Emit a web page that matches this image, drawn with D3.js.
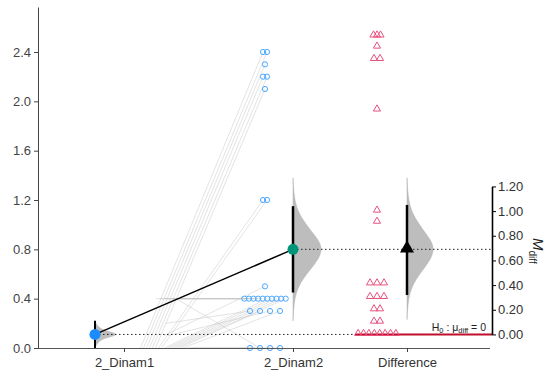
<!DOCTYPE html>
<html>
<head>
<meta charset="utf-8">
<script src="https://cdn.jsdelivr.net/npm/d3@7"></script>
<style>
  body { margin: 0; background: #fff; }
  svg { display: block; font-family: "Liberation Sans", Arial, sans-serif; }
</style>
</head>
<body>
<div class="chart-container"></div>
<script>
// Data
const categories = ["2_Dinam1", "2_Dinam2", "Difference"];
const dinam1 = [0, 0, 0, 0, 0, 0, 0, 0, 0.1, 0.4, 0.4, 0.4, 0.4, 0.4, 0, 0, 0, 0, 0, 0.2, 0, 0.1, 0, 0, 0.4, 0, 0];
const dinam2 = [2.4, 2.4, 2.3, 2.2, 2.2, 2.1, 1.2, 1.2, 0.5, 0.4, 0.4, 0.4, 0.4, 0.4, 0.4, 0.4, 0.4, 0.4, 0.4, 0.3, 0.3, 0.3, 0.3, 0, 0, 0, 0];
const differences = [2.42, 2.42, 2.42, 2.33, 2.23, 2.23, 1.82, 1.0, 0.91, 0.41, 0.41, 0.41, 0.3, 0.3, 0.3, 0.2, 0.2, 0.1, 0.1, 0, 0, 0, 0, 0, 0, 0, 0];
const groupMeans = [0.11, 0.80];
const groupCI = [[0.0, 0.22], [0.45, 1.15]];
const diffMean = 0.69;
const diffCI = [0.32, 1.05];
const leftTicks = [0, 0.4, 0.8, 1.2, 1.6, 2.0, 2.4];
const rightTicks = [0, 0.2, 0.4, 0.6, 0.8, 1.0, 1.2];
// bootstrap density outlines: [value, relative width]
const density1 = [[0.0, 0], [0.04, 0.08], [0.08, 0.3], [0.11, 1], [0.14, 0.3], [0.18, 0.08], [0.22, 0]];
const density2 = [[0.22, 0], [0.35, 0.03], [0.45, 0.1], [0.55, 0.3], [0.65, 0.65], [0.73, 0.9], [0.8, 1], [0.87, 0.9], [0.95, 0.62], [1.05, 0.3], [1.15, 0.1], [1.25, 0.03], [1.38, 0]];
const densityDiff = [[0.12, 0], [0.24, 0.03], [0.34, 0.1], [0.44, 0.3], [0.54, 0.65], [0.62, 0.9], [0.69, 1], [0.76, 0.9], [0.84, 0.62], [0.94, 0.3], [1.04, 0.1], [1.14, 0.03], [1.27, 0]];

const width = 550;
const height = 381;
const font = '"Liberation Sans", Arial, sans-serif';

const svg = d3.select('.chart-container').append('svg')
    .attr('width', width)
    .attr('height', height);

const x = d3.scaleOrdinal(categories, [124, 293, 407]);
const y = d3.scaleLinear().domain([0, 2.765]).range([348, 7]);
const yR = d3.scaleLinear().domain([0, 1.2]).range([y(groupMeans[0]), y(groupMeans[0] + 1.2)]);
const axisRight = 492;

// spread equal values side by side
function spread(vals, spacing) {
    const seen = {};
    const counts = {};
    vals.forEach(v => counts[v] = (counts[v] || 0) + 1);
    return vals.map(v => {
        const k = seen[v] = (seen[v] === undefined ? 0 : seen[v] + 1);
        const n = counts[v];
        const s = spacing(n, v);
        return (k - (n - 1) / 2) * s;
    });
}

const off1 = spread(dinam1, n => n > 10 ? 3 : 4);
const off2 = spread(dinam2, n => n > 5 ? 4.6 : (n > 2 ? 10 : 4));
const offD = spread(differences, (n, v) => v > 2.3 ? 3.5 : (n > 5 ? 5.4 : (n > 2 ? 7 : 6)));

const c1 = x('2_Dinam1') + 42;
const c2 = x('2_Dinam2') - 28;
const cD = x('Difference') - 30;

svg.append('clipPath').attr('id', 'plot')
    .append('rect').attr('x', 38).attr('y', 0).attr('width', 460).attr('height', 348);

// paired lines
svg.append('g').attr('clip-path', 'url(#plot)')
    .selectAll('line')
    .data(dinam1)
    .enter()
    .append('line')
    .attr('x1', (d, i) => c1 + off1[i])
    .attr('y1', d => y(d))
    .attr('x2', (d, i) => c2 + off2[i])
    .attr('y2', (d, i) => y(dinam2[i]))
    .attr('stroke', '#c4c4c4')
    .attr('stroke-opacity', 0.6)
    .attr('stroke-width', 0.8);

// half violins
function violin(data, cx, scale, w) {
    const wScale = d3.scaleLinear().domain([0, 1]).range([0, w]);
    svg.append('path')
        .datum(data)
        .attr('d', d3.area()
            .curve(d3.curveBasis)
            .y(d => scale(d[0]))
            .x0(cx)
            .x1(d => cx + wScale(d[1])))
        .attr('fill', '#bdbdbd')
        .attr('stroke', '#b0b0b0')
        .attr('stroke-width', 0.5);
}
const m1x = x('2_Dinam1') - 29;
violin(density1, m1x, y, 27);
violin(density2, x('2_Dinam2'), y, 29);
violin(densityDiff, x('Difference'), yR, 27);

// dotted reference lines
svg.append('line')
    .attr('x1', m1x).attr('x2', axisRight)
    .attr('y1', y(groupMeans[0])).attr('y2', y(groupMeans[0]))
    .attr('stroke', '#222').attr('stroke-dasharray', '1.5,2.5');
svg.append('line')
    .attr('x1', x('2_Dinam2')).attr('x2', axisRight)
    .attr('y1', y(groupMeans[1])).attr('y2', y(groupMeans[1]))
    .attr('stroke', '#222').attr('stroke-dasharray', '1.5,2.5');

// H0 line
svg.append('line')
    .attr('x1', 356).attr('x2', axisRight)
    .attr('y1', yR(0)).attr('y2', yR(0))
    .attr('stroke', '#c0102a').attr('stroke-width', 2);

const h0 = svg.append('text')
    .attr('x', 486).attr('y', yR(0) - 3)
    .attr('text-anchor', 'end')
    .attr('font-size', 10.5)
    .attr('fill', '#222');
h0.append('tspan').text('H');
h0.append('tspan').attr('font-size', 7.5).attr('dy', 2).text('0');
h0.append('tspan').attr('dy', -2).text(' : μ');
h0.append('tspan').attr('font-size', 7.5).attr('dy', 2).text('diff');
h0.append('tspan').attr('dy', -2).text(' = 0');

// CI bars
svg.append('line')
    .attr('x1', m1x).attr('x2', m1x)
    .attr('y1', y(groupCI[0][0])).attr('y2', y(groupCI[0][1]))
    .attr('stroke', '#000').attr('stroke-width', 2);
svg.append('line')
    .attr('x1', x('2_Dinam2')).attr('x2', x('2_Dinam2'))
    .attr('y1', y(groupCI[1][0])).attr('y2', y(groupCI[1][1]))
    .attr('stroke', '#000').attr('stroke-width', 2.5);
svg.append('line')
    .attr('x1', x('Difference')).attr('x2', x('Difference'))
    .attr('y1', yR(diffCI[0])).attr('y2', yR(diffCI[1]))
    .attr('stroke', '#000').attr('stroke-width', 2.5);

// raw points
svg.append('g')
    .selectAll('circle')
    .data(dinam2)
    .enter()
    .append('circle')
    .attr('cx', (d, i) => c2 + off2[i])
    .attr('cy', d => y(d))
    .attr('r', 2.6)
    .attr('fill', 'none')
    .attr('stroke', '#4aa8ff')
    .attr('stroke-width', 1);

svg.append('g')
    .selectAll('path')
    .data(differences)
    .enter()
    .append('path')
    .attr('d', d3.symbol(d3.symbolTriangle, 22))
    .attr('transform', (d, i) => `translate(${cD + offD[i]},${yR(d) - 1})`)
    .attr('fill', 'none')
    .attr('stroke', '#e8507e')
    .attr('stroke-width', 1);

// mean connector
svg.append('line')
    .attr('x1', m1x).attr('y1', y(groupMeans[0]))
    .attr('x2', x('2_Dinam2')).attr('y2', y(groupMeans[1]))
    .attr('stroke', '#000').attr('stroke-width', 1.5);

svg.append('circle')
    .attr('cx', m1x).attr('cy', y(groupMeans[0])).attr('r', 5.5)
    .attr('fill', '#1a8cff');
svg.append('circle')
    .attr('cx', x('2_Dinam2')).attr('cy', y(groupMeans[1])).attr('r', 5.5)
    .attr('fill', '#00957a');
svg.append('path')
    .attr('d', d3.symbol(d3.symbolTriangle, 85))
    .attr('transform', `translate(${x('Difference')},${yR(diffMean) - 1})`)
    .attr('fill', '#000');

// left axis
const gLeft = svg.append('g')
    .attr('transform', 'translate(38,0)')
    .call(d3.axisLeft(y).tickValues(leftTicks).tickFormat(d3.format('.1f')).tickSize(4).tickSizeOuter(0))
    .attr('font-family', font).attr('font-size', 13);
gLeft.select('.domain').attr('stroke', '#444');
gLeft.selectAll('.tick line').attr('stroke', '#444');
gLeft.selectAll('.tick text').attr('fill', '#444').attr('x', -7);

// bottom axis
const gBottom = svg.append('g')
    .attr('transform', 'translate(0,348)')
    .call(d3.axisBottom(x).tickSize(4).tickSizeOuter(0))
    .attr('font-family', font).attr('font-size', 13);
gBottom.select('.domain').attr('d', 'M38,0.5H490').attr('stroke', '#555');
gBottom.selectAll('.tick line').attr('stroke', '#444');
gBottom.selectAll('.tick text').attr('fill', '#333').attr('y', 10);

// right axis
const gRight = svg.append('g')
    .attr('transform', `translate(${axisRight},0)`)
    .call(d3.axisRight(yR).tickValues(rightTicks).tickFormat(d3.format('.2f')).tickSize(4).tickSizeOuter(0))
    .attr('font-family', font).attr('font-size', 13);
gRight.select('.domain').attr('stroke', '#000').attr('stroke-width', 1.6);
gRight.selectAll('.tick line').attr('stroke', '#000');
gRight.selectAll('.tick text').attr('fill', '#333').attr('x', 6);

const lab = svg.append('text')
    .attr('transform', `translate(533,238) rotate(90)`)
    .attr('font-size', 15)
    .attr('fill', '#222');
lab.append('tspan').attr('font-style', 'italic').text('M');
lab.append('tspan').attr('font-size', 10).attr('dy', 4).text('diff');
</script>
</body>
</html>
